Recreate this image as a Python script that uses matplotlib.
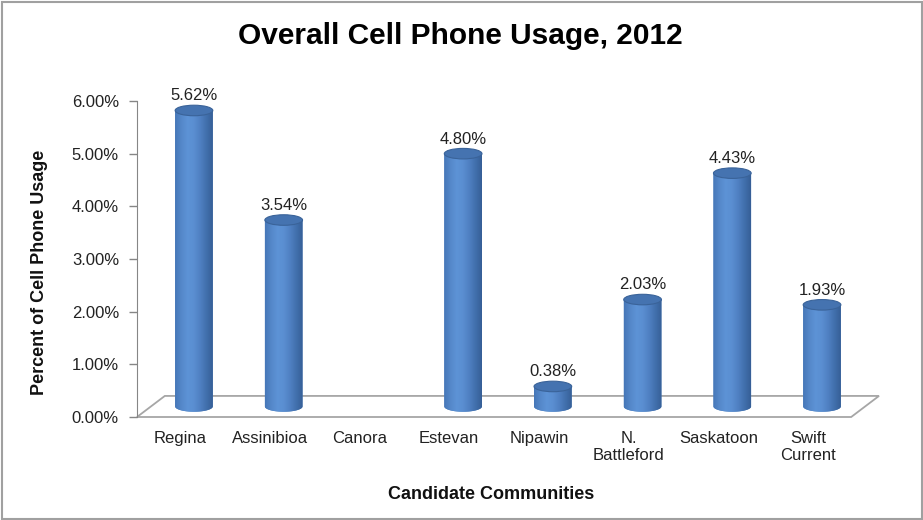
import numpy as np
import matplotlib.pyplot as plt
from matplotlib.patches import Ellipse, Polygon, Rectangle, PathPatch
from matplotlib.path import Path
from matplotlib.colors import LinearSegmentedColormap

plt.rcParams['font.family'] = ['Liberation Sans', 'DejaVu Sans']

communities = ['Regina', 'Assinibioa', 'Canora', 'Estevan', 'Nipawin',
               'N.\nBattleford', 'Saskatoon', 'Swift\nCurrent']
usage = [5.62, 3.54, 0.0, 4.80, 0.38, 2.03, 4.43, 1.93]
y_ticks = [0, 1, 2, 3, 4, 5, 6]

# fake 3d: bars sit half way back on the floor
depth_x, depth_y = 0.31, 0.40
bar_w, ell_h = 0.42, 0.20

body_cmap = LinearSegmentedColormap.from_list(
    'cyl', ['#4677B8', '#5588CA', '#5D93D6', '#5A8ED1', '#4F80C2', '#4270AD', '#365F97'])

fig = plt.figure(figsize=(9.23, 5.2), dpi=100)
ax = fig.add_axes([137 / 923, 103 / 520, 742 / 923, 316 / 520])

# floor
n = len(communities)
floor = Polygon([(-0.48, 0), (n - 0.52, 0), (n - 0.52 + depth_x, depth_y), (-0.48 + depth_x, depth_y)],
                closed=True, facecolor='white', edgecolor='#A6A6A6', lw=1.3, zorder=1, clip_on=False)
ax.add_patch(floor)

grad = np.linspace(0, 1, 64).reshape(1, -1)
for i, v in enumerate(usage):
    if v <= 0:
        continue
    cx = i + depth_x / 2
    base = depth_y / 2
    top = base + v
    x0, x1 = cx - bar_w / 2, cx + bar_w / 2
    t = np.linspace(np.pi, 2 * np.pi, 40)
    arc = np.column_stack([cx + bar_w / 2 * np.cos(t), base + ell_h / 2 * np.sin(t)])
    verts = np.vstack([[[x0, top]], arc, [[x1, top]], [[x0, top]]])
    codes = [Path.MOVETO] + [Path.LINETO] * (len(verts) - 2) + [Path.CLOSEPOLY]
    body = PathPatch(Path(verts, codes), facecolor='#4F81BD', edgecolor='none', zorder=3)
    ax.add_patch(body)
    im = ax.imshow(grad, extent=(x0, x1, base - ell_h, top), aspect='auto',
                   cmap=body_cmap, zorder=3, interpolation='bilinear')
    im.set_clip_path(body)
    ax.add_patch(Ellipse((cx, top), bar_w, ell_h, facecolor='#4573B0',
                         edgecolor='#3A6399', lw=0.8, zorder=4))
    ax.annotate(f'{v:.2f}%', (cx, top + ell_h / 2), xytext=(0, 3.5), textcoords='offset points',
                ha='center', va='baseline', fontsize=12, color='#222222', zorder=5)

ax.set_xlim(-0.48, n - 0.52 + depth_x)
ax.set_ylim(0, 6)
ax.set_yticks(y_ticks)
ax.yaxis.set_major_formatter(lambda v, p: f'{v:.2f}%')
ax.set_xticks(range(n))
ax.set_xticklabels(communities)
ax.tick_params(axis='y', length=6, width=1, color='#868686', pad=7, labelsize=12, labelcolor='#222222')
ax.tick_params(axis='x', length=0, pad=10, labelsize=12, labelcolor='#222222')
for s in ['top', 'right', 'bottom']:
    ax.spines[s].set_visible(False)
ax.spines['left'].set_color('#868686')
ax.spines['left'].set_zorder(2)
ax.patch.set_visible(False)

fig.text(460 / 923, 1 - 44 / 520, 'Overall Cell Phone Usage, 2012', ha='center', va='baseline',
         fontsize=21.5, fontweight='bold', color='black')
fig.text(491 / 923, 1 - 499 / 520, 'Candidate Communities', ha='center', va='baseline',
         fontsize=13, fontweight='bold', color='#111111')
fig.text(40 / 923, 1 - 272 / 520, 'Percent of Cell Phone Usage', ha='center', va='center',
         rotation=90, fontsize=13, fontweight='bold', color='#111111')

fig.add_artist(Rectangle((2 / 923, 1.5 / 520), 919.5 / 923, 516.5 / 520, transform=fig.transFigure,
                         fill=False, edgecolor='#A0A0A0', lw=1.5))

fig.savefig('out.png', dpi=100)
